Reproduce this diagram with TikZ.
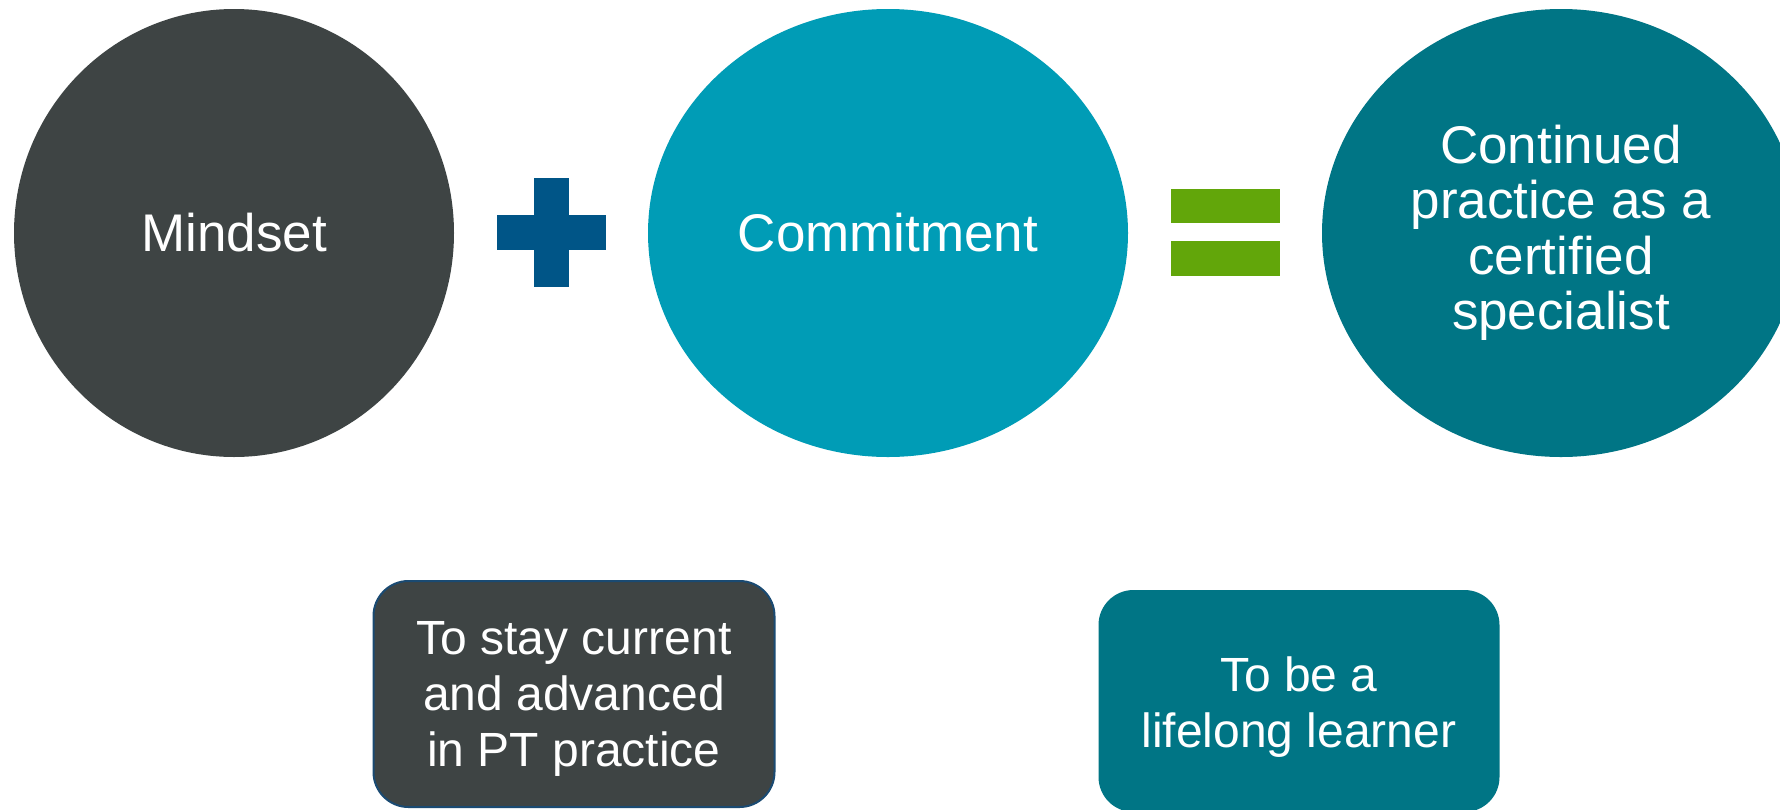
\documentclass[tikz,border=0pt]{standalone}
\usepackage{fontspec}
\setmainfont{Liberation Sans}
\usetikzlibrary{shapes.geometric}
\definecolor{mindgray}{HTML}{3E4444}
\definecolor{committeal}{HTML}{009CB6}
\definecolor{darkteal}{HTML}{007585}
\definecolor{plusblue}{HTML}{005587}
\definecolor{eqgreen}{HTML}{62A60A}
\definecolor{boxborder}{HTML}{1A4A72}
\tikzset{
  bigoval/.style={ellipse, inner sep=0pt, text=white, align=center,
    font=\fontsize{53}{55.5}\selectfont},
  goalbox/.style={rectangle, rounded corners=35pt, inner sep=0pt,
    minimum width=401pt},
  goaltext/.style={inner sep=0pt, text=white, align=center,
    font=\fontsize{48}{56}\selectfont},
  bar/.style={rectangle, inner sep=0pt, draw=none},
}
\begin{document}
\begin{tikzpicture}[x=1pt,y=-1pt]
\useasboundingbox (0,0) rectangle (1780,809);
\clip (0,0) rectangle (1780,809);
\fill[white] (0,0) rectangle (1780,809);
\node[bigoval, fill=mindgray, minimum width=440pt, minimum height=448pt] (mind) at (234,233) {Mindset};
\node[bigoval, fill=committeal, minimum width=480pt, minimum height=448pt] (commit) at (888,233) {Commitment};
\node[bigoval, fill=darkteal, minimum width=478pt, minimum height=448pt] (result) at (1561,233) {Continued\\practice as a\\certified\\specialist};
\node[bar, fill=plusblue, minimum width=35pt, minimum height=109pt] (plusv) at (551.5,232.5) {};
\node[bar, fill=plusblue, minimum width=109pt, minimum height=35pt] (plush) at (551.5,232.5) {};
\node[bar, fill=eqgreen, minimum width=109pt, minimum height=34pt] (eqtop) at (1225.5,206) {};
\node[bar, fill=eqgreen, minimum width=109pt, minimum height=35pt] (eqbot) at (1225.5,258.5) {};
\node[goalbox, fill=mindgray, draw=boxborder, line width=2pt, minimum height=226pt] (stay) at (574,694) {};
\node[goaltext] (staytext) at ([yshift=-5pt]stay.center) {To stay current\\and advanced\\in PT practice};
\node[goalbox, fill=darkteal, minimum height=222pt] (learn) at (1299,701) {};
\node[goaltext] (learntext) at ([yshift=-6pt]learn.center) {To be a\\lifelong learner};
\end{tikzpicture}
\end{document}
